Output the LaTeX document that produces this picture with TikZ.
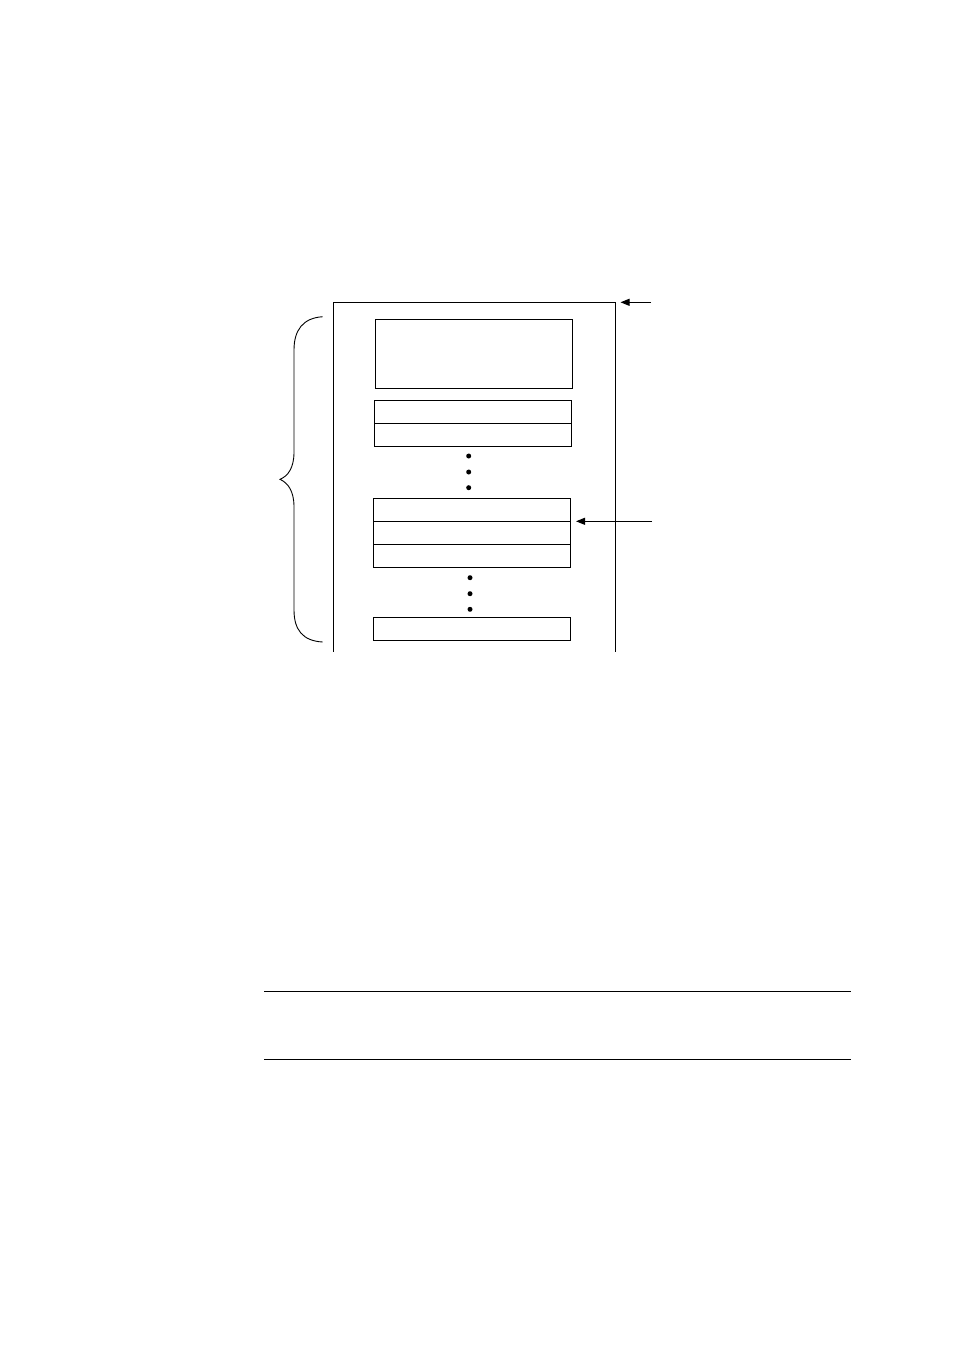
\documentclass[tikz,border=0pt]{standalone}
\usetikzlibrary{arrows.meta}
\begin{document}
\begin{tikzpicture}[x=1pt,y=-1pt,line width=0.9pt,
  cell/.style={draw,line width=0.9pt},
  dotmark/.style={fill=black,draw=none},
  pointer/.style={-{Triangle[length=9pt,width=7pt]},line width=0.9pt}]
\useasboundingbox (0,0) rectangle (954,1351);
\fill[white] (0,0) rectangle (954,1351);
% outer frame (open at bottom)
\draw (333.3,651.7) -- (333.3,302.3) coordinate (ftl) -- (615.3,302.3) coordinate (ftr) -- (615.3,651.7);
% top box
\draw[cell] (375.3,319.3) rectangle (572.3,388.3);
% two-row box
\draw[cell] (374.3,400.3) rectangle (571.7,446);
\draw (374.3,423.3) -- (571.7,423.3);
% dots
\foreach \y in {456,472,487.7} \fill[dotmark] (468.7,\y) circle (2.5);
% three-row box
\draw[cell] (373.7,498.7) rectangle (570.3,567);
\draw (373.7,521.3) -- (570.3,521.3);
\draw (373.7,544.3) -- (570.3,544.3);
\coordinate (midR) at (570.3,521.3);
% dots
\foreach \y in {577.7,593.7,609.3} \fill[dotmark] (470,\y) circle (2.5);
% bottom box
\draw[cell] (373.7,617.7) rectangle (570.3,640);
% arrows
\coordinate (a1) at (651,302.3);
\coordinate (a1t) at (620.5,302.3);
\draw[pointer] (a1) -- (a1t);
\coordinate (a2) at (652,521.3);
\coordinate (a2t) at (576,521.3);
\draw[pointer] (a2) -- (a2t);
% brace
\draw (322.7,316.7) .. controls (303,318) and (294,330) .. (294,350)
  -- (294,452) .. controls (294,468) and (288,476) .. (280,479.3)
  .. controls (288,483) and (294,491) .. (294,507)
  -- (294,610) .. controls (294,630) and (303,641) .. (322.7,642);
% horizontal rules
\draw (264,991) -- (851,991);
\draw (264,1059) -- (851,1059);
\end{tikzpicture}
\end{document}
